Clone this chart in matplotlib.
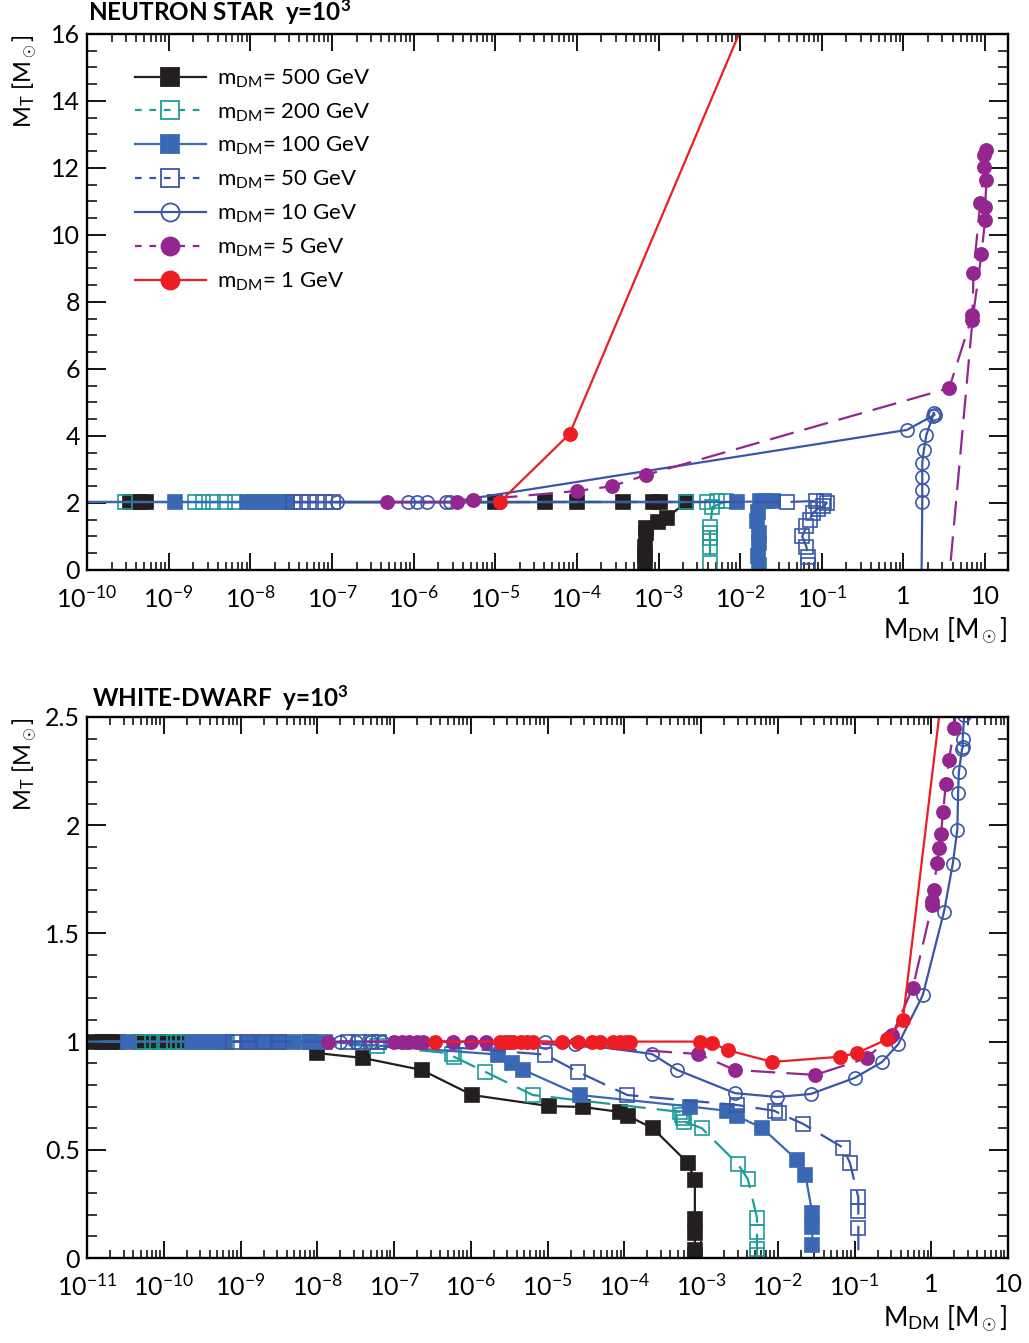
import numpy as np
import matplotlib
matplotlib.use('Agg')
import matplotlib.pyplot as plt
from matplotlib.lines import Line2D
from matplotlib.ticker import FixedLocator, FixedFormatter, MultipleLocator

plt.rcParams['font.family'] = ['Lato', 'DejaVu Sans']
plt.rcParams['mathtext.fontset'] = 'custom'
plt.rcParams['mathtext.rm'] = 'Lato'
plt.rcParams['mathtext.it'] = 'Lato:italic'
plt.rcParams['mathtext.bf'] = 'Lato:bold'

# ---- data: x given as log10(M_DM / Msun), y = M_T / Msun ----
# neutron star panel
ns500_lx = [-10.3, -9.47, -9.41, -9.35, -9.28, -5.0, -4.39, -4.0, -3.44, -3.07, -2.98, -2.66,
            -2.90, -3.01, -3.15, -3.15, -3.17, -3.17, -3.17]
ns500_y = [2.03, 2.03, 2.03, 2.03, 2.03, 2.02, 2.03, 2.03, 2.03, 2.03, 2.03, 2.03,
           1.55, 1.43, 1.25, 1.10, 0.69, 0.45, 0.20]
ns200_lx = [-9.53, -8.68, -8.58, -8.46, -8.31, -8.19, -2.66, -2.41, -2.29, -2.17, -2.34,
            -2.37, -2.37, -2.37, -2.37, -2.37]
ns200_y = [2.03, 2.03, 2.03, 2.03, 2.03, 2.03, 2.03, 2.03, 2.06, 2.06, 1.88,
           1.28, 1.10, 0.95, 0.69, 0.20]
ns100_lx = [-10.3, -8.92, -8.04, -7.96, -7.88, -7.80, -7.72, -7.64, -7.55, -2.04, -1.76, -1.68,
            -1.60, -1.78, -1.79, -1.77, -1.77, -1.78, -1.77]
ns100_y = [2.03, 2.03, 2.03, 2.03, 2.03, 2.03, 2.03, 2.03, 2.03, 2.03, 2.05, 2.06,
           2.06, 1.72, 1.45, 1.10, 0.80, 0.42, 0.15]
ns50_lx = [-7.48, -7.38, -7.28, -7.18, -7.08, -6.99, -1.43, -1.07, -0.97, -0.94, -0.98, -1.05,
           -1.11, -1.15, -1.19, -1.24, -1.19, -1.17, -1.17]
ns50_y = [2.03, 2.03, 2.03, 2.03, 2.03, 2.03, 2.03, 2.06, 2.06, 2.00, 1.90, 1.82,
          1.70, 1.50, 1.30, 1.00, 0.70, 0.40, 0.15]
ns10_lx = [-6.94, -6.07, -5.96, -5.84, -5.60, -5.56, 0.04, 0.38, 0.37, 0.36, 0.28, 0.25,
           0.23, 0.23, 0.23, 0.23, 0.22]
ns10_y = [2.03, 2.03, 2.03, 2.03, 2.03, 2.03, 4.18, 4.63, 4.70, 4.60, 4.03, 3.58,
          3.20, 2.78, 2.39, 2.03, -0.5]
ns5_lx = [-6.33, -5.47, -5.27, -4.0, -3.57, -3.15, 0.56, 0.845, 0.857, 0.94, 1.016, 0.99,
          0.98, 1.016, 1.0, 1.0, 0.955, 0.845, 0.55]
ns5_y = [2.03, 2.03, 2.08, 2.36, 2.50, 2.84, 5.43, 7.61, 8.87, 10.96, 12.54, 12.39,
         12.03, 11.64, 10.84, 10.45, 9.43, 7.46, -0.5]
ns1_lx = [-4.94, -4.09, -1.32]
ns1_y = [2.04, 4.06, 20.0]

# white dwarf panel
wd500_lx = [-11.3, -10.9, -10.8, -10.7, -10.6, -10.3, -10.15, -10.05, -9.9, -9.8, -8.1, -8.0,
            -7.40, -6.64, -5.98, -4.98, -4.54, -4.06, -3.95, -3.63, -3.17, -3.08, -3.08,
            -3.08, -3.08, -3.08]
wd500_y = [1, 1, 1, 1, 1, 1, 1, 1, 1, 1, 1.0, 0.947,
           0.924, 0.869, 0.753, 0.702, 0.698, 0.675, 0.656, 0.60, 0.439, 0.36, 0.18,
           0.116, 0.037, 0.014]
wd200_lx = [-11.3, -10.27, -10.15, -10.0, -9.87, -9.75, -9.53, -9.4, -9.3, -9.18, -7.22, -6.25,
            -6.22, -5.81, -5.19, -3.27, -3.25, -3.24, -3.22, -2.99, -2.52, -2.39, -2.27,
            -2.27, -2.27, -2.27]
wd200_y = [1, 1, 1, 1, 1, 1, 1, 1, 1, 1, 0.98, 0.945,
           0.93, 0.86, 0.753, 0.675, 0.66, 0.645, 0.63, 0.60, 0.434, 0.365, 0.185,
           0.12, 0.042, 0.014]
wd100_lx = [-11.3, -10.47, -9.63, -9.5, -9.35, -9.2, -8.9, -8.7, -8.5, -8.3, -8.1, -7.9,
            -5.64, -5.46, -5.32, -4.58, -3.14, -2.66, -2.53, -2.2, -1.75, -1.64, -1.55,
            -1.55, -1.55]
wd100_y = [1, 1, 1, 1, 1, 1, 1, 1, 1, 1, 1, 1,
           0.94, 0.90, 0.87, 0.753, 0.70, 0.68, 0.656, 0.60, 0.453, 0.384, 0.208,
           0.143, 0.06]
wd50_lx = [-9.1, -8.9, -8.7, -8.5, -7.6, -7.45, -7.3, -7.2, -5.03, -4.6, -3.96, -2.53,
           -2.04, -1.99, -1.67, -1.15, -1.06, -0.95, -0.95, -0.95, -0.95]
wd50_y = [1, 1, 1, 1, 1, 1, 1, 1, 0.94, 0.86, 0.753, 0.707,
          0.68, 0.67, 0.62, 0.51, 0.44, 0.28, 0.218, 0.14, -0.1]
wd10_lx = [-7.7, -7.5, -7.3, -7.15, -5.03, -4.64, -3.64, -3.31, -2.56, -2.01, -1.57, -1.0,
           -0.64, -0.43, -0.11, 0.166, 0.28, 0.34, 0.35, 0.36, 0.40, 0.41, 0.41, 0.43, 0.5]
wd10_y = [1, 1, 1, 1, 1.0, 0.99, 0.943, 0.869, 0.762, 0.744, 0.758, 0.832,
          0.906, 0.988, 1.215, 1.6, 1.82, 1.98, 2.15, 2.246, 2.35, 2.36, 2.40, 2.51, 2.8]
wd5_lx = [-7.86, -7.0, -6.9, -6.8, -6.7, -6.62, -6.23, -6.0, -5.8, -5.5, -3.04, -2.56,
          -1.51, -0.84, -0.54, -0.51, -0.24, 0.01, 0.01, 0.03, 0.075, 0.10, 0.127, 0.153,
          0.19, 0.23, 0.30, 0.36]
wd5_y = [1, 1, 1, 1, 1, 1, 1, 1, 1, 1, 0.943, 0.869,
         0.846, 0.924, 1.02, 1.03, 1.25, 1.63, 1.65, 1.70, 1.825, 1.895, 1.96, 2.06,
         2.19, 2.30, 2.45, 2.7]
wd1_lx = [-6.47, -5.62, -5.55, -5.45, -5.35, -5.27, -5.19, -4.81, -4.6, -4.42, -4.32, -4.15,
          -4.05, -3.98, -3.93, -3.01, -2.86, -2.65, -2.07, -1.19, -0.97, -0.58, -0.37, 0.27]
wd1_y = [1, 1, 1, 1, 1, 1, 1, 1, 1, 1, 1, 1,
         1, 1, 1, 1.0, 0.995, 0.96, 0.906, 0.93, 0.947, 1.01, 1.1, 3.0]

labels = ['500 GeV', '200 GeV', '100 GeV', '50 GeV', '10 GeV', '5 GeV', '1 GeV']

# style per mass: colour, marker, filled, dashed?
styles = [
    ('#231f20', 's', True, False),
    ('#1e9c98', 's', False, True),
    ('#3b68b5', 's', True, False),
    ('#3a56a8', 's', False, True),
    ('#3a56a8', 'o', False, False),
    ('#93278f', 'o', True, True),
    ('#ee1d23', 'o', True, False),
]


def draw(ax, series):
    for (lx, y), (col, mk, filled, dashed) in zip(series, styles):
        ln, = ax.plot(10.0 ** np.array(lx), y, color=col, lw=1.6, marker=mk, ms=9.5,
                      mfc=col if filled else 'none', mec=col, mew=1.2)
        if dashed:
            ln.set_dashes((11, 5))


def legend_handles():
    hs = []
    for (col, mk, filled, dashed), lab in zip(styles, labels):
        ln = Line2D([], [], color=col, lw=1.6, marker=mk, ms=13,
                    mfc=col if filled else 'none', mec=col, mew=1.3,
                    label=r'm$_{\mathrm{DM}}$= ' + lab)
        if dashed:
            ln.set_dashes((3, 3.5))
        hs.append(ln)
    return hs


def style_axes(ax, dec_lo, dec_hi, xmax):
    ax.set_xscale('log')
    ax.set_xlim(10.0 ** dec_lo, xmax)
    decs = list(range(dec_lo, dec_hi + 1))
    ticklab = []
    for d in decs:
        if d == 0:
            ticklab.append('1')
        elif d == 1:
            ticklab.append('10')
        else:
            ticklab.append(r'10$^{%d}$' % d)
    ax.xaxis.set_major_locator(FixedLocator([10.0 ** d for d in decs]))
    ax.xaxis.set_major_formatter(FixedFormatter(ticklab))
    minors = [m * 10.0 ** d for d in range(dec_lo, dec_hi + 1) for m in range(2, 10)]
    ax.xaxis.set_minor_locator(FixedLocator(minors))
    ax.tick_params(which='both', direction='in', top=True, right=True, labelsize=18)
    ax.tick_params(axis='x', which='major', length=12, width=1.3, pad=11)
    ax.tick_params(axis='x', which='minor', length=6, width=1.1)
    ax.tick_params(axis='y', which='major', length=14, width=1.3, pad=5)
    ax.tick_params(axis='y', which='minor', length=7, width=1.1)
    for s in ax.spines.values():
        s.set_linewidth(1.7)
    ax.set_xlabel(r'M$_{\mathrm{DM}}$ [M$_\odot$]', loc='right', fontsize=19)
    ax.set_ylabel(r'M$_{\mathrm{T}}$ [M$_\odot$]', loc='top', fontsize=17)
    ax.yaxis.set_label_coords(-0.052, 1.0)
    ax.xaxis.set_label_coords(1.0, -0.085)


fig = plt.figure(figsize=(10.29, 13.43), dpi=100)

# neutron star
ax1 = fig.add_axes([87 / 1029, 1 - 570 / 1343, 921 / 1029, 536 / 1343])
draw(ax1, [(ns500_lx, ns500_y), (ns200_lx, ns200_y), (ns100_lx, ns100_y),
           (ns50_lx, ns50_y), (ns10_lx, ns10_y), (ns5_lx, ns5_y), (ns1_lx, ns1_y)])
style_axes(ax1, -10, 1, 10 ** 1.28)
ax1.set_ylim(0, 16)
ax1.yaxis.set_major_locator(MultipleLocator(2))
ax1.yaxis.set_minor_locator(MultipleLocator(0.5))
ax1.legend(handles=legend_handles(), loc='upper left', bbox_to_anchor=(0.03, 0.975),
           frameon=False, fontsize=16, handlelength=3.2, labelspacing=0.52,
           handletextpad=0.5)
fig.text(88 / 1029, 1 - 12 / 1343, r'NEUTRON STAR  y=10$^{\mathbf{3}}$', fontsize=17.5,
         fontweight='bold', va='center', ha='left')

# white dwarf
ax2 = fig.add_axes([87 / 1029, 1 - 1258 / 1343, 921 / 1029, 541 / 1343])
draw(ax2, [(wd500_lx, wd500_y), (wd200_lx, wd200_y), (wd100_lx, wd100_y),
           (wd50_lx, wd50_y), (wd10_lx, wd10_y), (wd5_lx, wd5_y), (wd1_lx, wd1_y)])
style_axes(ax2, -11, 1, 10.0)
ax2.set_ylim(0, 2.5)
ax2.yaxis.set_major_locator(FixedLocator([0, 0.5, 1, 1.5, 2, 2.5]))
ax2.yaxis.set_major_formatter(FixedFormatter(['0', '0.5', '1', '1.5', '2', '2.5']))
ax2.yaxis.set_minor_locator(MultipleLocator(0.1))
fig.text(92 / 1029, 1 - 698 / 1343, r'WHITE-DWARF  y=10$^{\mathbf{3}}$', fontsize=17.5,
         fontweight='bold', va='center', ha='left')

fig.savefig('out.png', dpi=100)
